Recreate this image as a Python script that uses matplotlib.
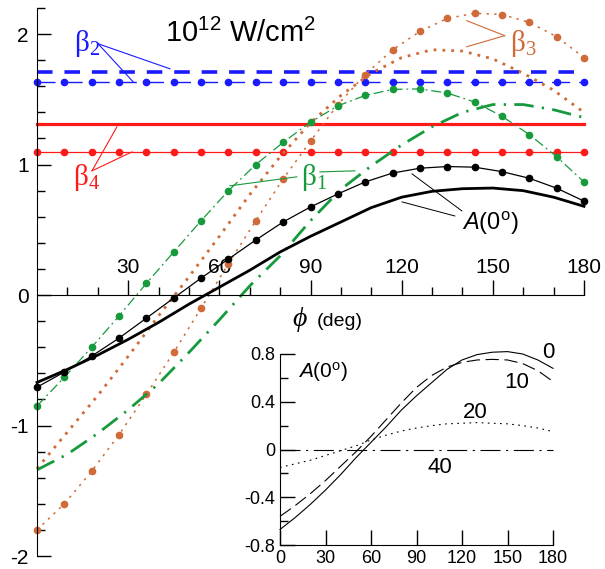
import numpy as np
import matplotlib
matplotlib.use("Agg")
import matplotlib.pyplot as plt

plt.rcParams["font.family"] = ["Liberation Sans", "DejaVu Sans"]
plt.rcParams["mathtext.fontset"] = "custom"
plt.rcParams["mathtext.rm"] = "Liberation Serif"
plt.rcParams["mathtext.it"] = "Liberation Sans:italic"
plt.rcParams["mathtext.sf"] = "Liberation Sans"
plt.rcParams["axes.unicode_minus"] = False

# angles (deg)
PHI_9 = np.arange(0, 181, 9)      # marker series, every 9 deg
PHI_10 = np.arange(0, 181, 10)    # smooth series, every 10 deg

# beta_2 / beta_4 (flat)
B2_THICK = 1.71
B2_DOTS = 1.63
B4_THICK = 1.31
B4_DOTS = 1.10

# A(0) with markers and thick curve
A0_DOTS = [-0.706, -0.59, -0.468, -0.33, -0.177, -0.023, 0.13, 0.276, 0.422, 0.56,
           0.675, 0.775, 0.867, 0.935, 0.972, 0.985, 0.98, 0.946, 0.895, 0.819, 0.72]
A0_THICK = [-0.67, -0.57, -0.46, -0.34, -0.21, -0.07, 0.06, 0.19, 0.33, 0.45,
            0.56, 0.67, 0.75, 0.795, 0.815, 0.82, 0.80, 0.75, 0.68]

# beta_1
B1_DOTS = [-0.85, -0.63, -0.40, -0.16, 0.09, 0.33, 0.57, 0.80, 1.00, 1.17,
           1.325, 1.45, 1.53, 1.576, 1.58, 1.548, 1.48, 1.37, 1.23, 1.06, 0.867]
B1_THICK = [-1.34, -1.22, -1.06, -0.88, -0.68, -0.44, -0.19, 0.07, 0.30, 0.57,
            0.81, 0.99, 1.15, 1.29, 1.40, 1.46, 1.46, 1.42, 1.36]

# beta_3
B3_DOTS = [-1.80, -1.60, -1.35, -1.07, -0.76, -0.44, -0.10, 0.24, 0.57, 0.89,
           1.18, 1.46, 1.69, 1.88, 2.02, 2.12, 2.16, 2.15, 2.09, 1.98, 1.82]
B3_THICK = [-1.33, -1.05, -0.77, -0.47, -0.16, 0.14, 0.45, 0.77, 1.06, 1.32,
            1.53, 1.70, 1.82, 1.88, 1.87, 1.81, 1.70, 1.57, 1.40]

# inset: A(0) for several intensities
INSET_LABELS = ["0", "10", "20", "40"]
A_10 = [-0.56, -0.47, -0.37, -0.26, -0.14, -0.02, 0.11, 0.25, 0.39, 0.52,
        0.62, 0.69, 0.73, 0.75, 0.755, 0.75, 0.72, 0.66, 0.57]
A_20 = [-0.15, -0.12, -0.09, -0.05, -0.01, 0.03, 0.08, 0.12, 0.155, 0.18,
        0.20, 0.215, 0.22, 0.225, 0.22, 0.215, 0.20, 0.18, 0.15]
A_40 = [0.0] * 19

BLUE = "#1a1aff"
RED = "#ff1a1a"
GREEN = "#169a3c"
ORANGE = "#d06a38"

fig = plt.figure(figsize=(6.05, 5.69), dpi=100)
ax = fig.add_axes([37 / 605, 13 / 569, 547 / 605, 548 / 569])
ax.set_facecolor("none")

ms = 4.5
# beta 2
ax.plot([0, 180], [B2_THICK] * 2, color=BLUE, lw=2.6, ls=(0, (4.3, 3.3)), clip_on=False)
ax.plot(PHI_9, [B2_DOTS] * len(PHI_9), color=BLUE, lw=1.0, ls=(0, (13, 6.5)),
        marker="o", ms=ms, clip_on=False)
# beta 4
ax.plot([0, 180], [B4_THICK] * 2, color=RED, lw=2.3, clip_on=False)
ax.plot(PHI_9, [B4_DOTS] * len(PHI_9), color=RED, lw=0.9, marker="o", ms=ms, clip_on=False)
# beta 3
ax.plot(PHI_10, B3_THICK, color=ORANGE, lw=2.0, ls=(0, (1.0, 2.2)), clip_on=False)
ax.plot(PHI_9, B3_DOTS, color=ORANGE, lw=1.1, ls=(0, (1.5, 3.5)), marker="o", ms=ms,
        clip_on=False)
# beta 1
ax.plot(PHI_10, B1_THICK, color=GREEN, lw=2.0, ls=(0, (7, 3, 0.8, 3)), clip_on=False)
ax.plot(PHI_9, B1_DOTS, color=GREEN, lw=0.9, ls=(0, (8, 3, 1.5, 3)), marker="o", ms=ms,
        clip_on=False)
# A(0)
ax.plot(PHI_10, A0_THICK, color="black", lw=2.0, clip_on=False)
ax.plot(PHI_9, A0_DOTS, color="black", lw=0.9, marker="o", ms=ms, clip_on=False)

ax.set_xlim(0, 180)
ax.set_ylim(-2, 2.2)

for s in ["right", "bottom"]:
    ax.spines[s].set_visible(False)
ax.spines["top"].set_position(("data", 0))
ax.xaxis.set_ticks_position("top")
ax.set_xticks([30, 60, 90, 120, 150, 180])
ax.set_xticks([10, 20, 40, 50, 70, 80, 100, 110, 130, 140, 160, 170], minor=True)
ax.tick_params(axis="x", which="major", direction="out", length=11, width=1,
               labelsize=15, pad=2)
ax.tick_params(axis="x", which="minor", direction="out", length=6, width=1)
ax.set_yticks([-2, -1, 0, 1, 2])
ax.set_yticks(np.arange(-2, 2.21, 0.2), minor=True)
ax.set_yticklabels(["-2", "-1", "0", "1", "2"])
ax.tick_params(axis="y", which="major", direction="in", length=10, width=1,
               labelsize=15, pad=6)
ax.tick_params(axis="y", which="minor", direction="in", length=6, width=1)

# labels and leader lines
ax.text(42.1, 1.94, r"10$^{\mathsf{12}}$ W/cm$^{\mathsf{2}}$", fontsize=21,
        ha="left", va="baseline")

ax.text(16.4, 1.93, r"$\mathrm{\beta}_{\mathrm{2}}$", color=BLUE, fontsize=21,
        ha="center", va="center")
ax.plot([20.1, 43.75], [1.926, 1.734], color=BLUE, lw=0.8)
ax.plot([20.1, 31.6], [1.926, 1.635], color=BLUE, lw=0.8)

ax.text(16.4, 0.90, r"$\mathrm{\beta}_{\mathrm{4}}$", color=RED, fontsize=21,
        ha="center", va="center")
ax.plot([18.1, 26.3], [0.952, 1.289], color=RED, lw=0.8)
ax.plot([18.1, 31.25], [0.952, 1.097], color=RED, lw=0.8)

ax.text(91.0, 0.90, r"$\mathrm{\beta}_{\mathrm{1}}$", color=GREEN, fontsize=21,
        ha="center", va="center")
ax.plot([85.5, 63.5], [0.906, 0.837], color=GREEN, lw=0.8)
ax.plot([93.1, 104.6], [0.944, 0.952], color=GREEN, lw=0.8)

ax.text(160.0, 1.93, r"$\mathrm{\beta}_{\mathrm{3}}$", color=ORANGE, fontsize=21,
        ha="center", va="center")
ax.plot([153.9, 141.4], [1.988, 2.103], color=ORANGE, lw=0.8)
ax.plot([153.9, 141.4], [1.988, 1.903], color=ORANGE, lw=0.8)

ax.text(149.0, 0.55, r"$A$(0$^{\mathsf{o}}$)", fontsize=17, ha="center", va="center")
ax.plot([139.8, 123.4], [0.645, 0.929], color="black", lw=0.7)
ax.plot([137.5, 120.1], [0.606, 0.714], color="black", lw=0.7)

ax.text(86.5, -0.19, "ϕ", fontsize=20, family=["Liberation Serif", "DejaVu Serif"],
        style="italic", ha="center", va="center")
ax.text(92.0, -0.20, "(deg)", fontsize=14, ha="left", va="center")

# inset
axi = fig.add_axes([280 / 605, 24 / 569, 273 / 605, 191 / 569])
axi.set_facecolor("none")
axi.plot(PHI_10, A0_THICK, color="black", lw=0.8, clip_on=False)
axi.plot(PHI_10, A_10, color="black", lw=0.8, ls=(0, (12, 5)), clip_on=False)
axi.plot(PHI_10, A_20, color="black", lw=0.8, ls=(0, (1.5, 4)), clip_on=False)
axi.plot(PHI_10, A_40, color="black", lw=0.8, ls=(0, (18, 5, 2, 5)), clip_on=False)
axi.set_xlim(0, 180)
axi.set_ylim(-0.8, 0.8)
for s in ["right", "top"]:
    axi.spines[s].set_visible(False)
axi.set_xticks([0, 30, 60, 90, 120, 150, 180])
axi.set_yticks([-0.8, -0.4, 0, 0.4, 0.8])
axi.set_yticklabels(["-0.8", "-0.4", "0", "0.4", "0.8"])
axi.set_yticks(np.arange(-0.8, 0.81, 0.2), minor=True)
axi.tick_params(axis="both", which="major", direction="in", length=11, width=1,
                labelsize=13)
axi.tick_params(axis="y", which="minor", direction="in", length=6, width=1)

for lab, x, y in zip(INSET_LABELS, [176.7, 156.0, 128.5, 105.5], [0.81, 0.565, 0.306, -0.147]):
    axi.text(x, y, lab, fontsize=16, ha="center", va="center")
axi.text(28.3, 0.65, r"$A$(0$^{\mathsf{o}}$)", fontsize=15, ha="center", va="center")

fig.savefig("out.png", dpi=100)
